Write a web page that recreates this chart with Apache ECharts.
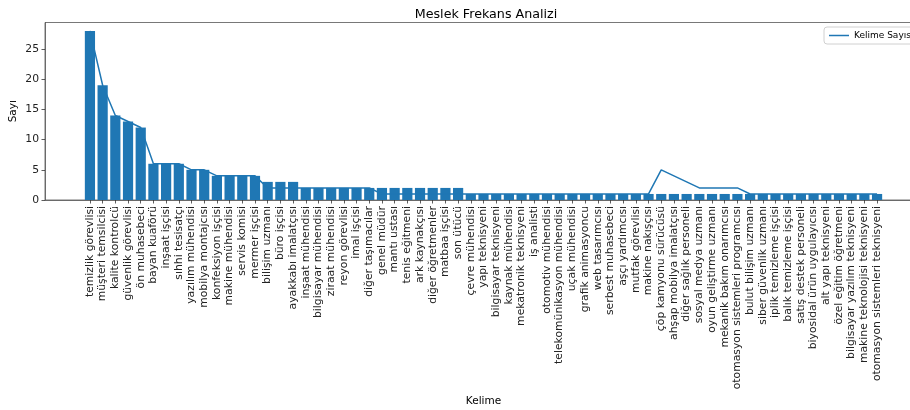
<!DOCTYPE html>
<html>
<head>
<meta charset="utf-8">
<script src="https://cdn.jsdelivr.net/npm/echarts@6/dist/echarts.min.js"></script>
<style>
  html, body { margin: 0; padding: 0; background: #fff; }
  #chart { width: 910px; height: 410px; }
</style>
</head>
<body>
<div id="chart"></div>
<script>
const categories = [
  "temizlik görevlisi", "müşteri temsilcisi", "kalite kontrolcü", "güvenlik görevlisi",
  "ön muhasebeci", "bayan kuaförü", "inşaat işçisi", "sıhhi tesisatçı",
  "yazılım mühendisi", "mobilya montajcısı", "konfeksiyon işçisi", "makine mühendisi",
  "servis komisi", "mermer işçisi", "bilişim uzmanı", "büro işçisi",
  "ayakkabı imalatçısı", "inşaat mühendisi", "bilgisayar mühendisi", "ziraat mühendisi",
  "reyon görevlisi", "imal işçisi", "diğer taşımacılar", "genel müdür",
  "mantı ustası", "tenis eğitmeni", "ark kaynakçısı", "diğer öğretmenler",
  "matbaa işçisi", "son ütücü", "çevre mühendisi", "yapı teknisyeni",
  "bilgisayar teknisyeni", "kaynak mühendisi", "mekatronik teknisyeni", "iş analisti",
  "otomotiv mühendisi", "telekomünikasyon mühendisi", "uçak mühendisi", "grafik animasyoncu",
  "web tasarımcısı", "serbest muhasebeci", "aşçı yardımcısı", "mutfak görevlisi",
  "makine nakışçısı", "çöp kamyonu sürücüsü", "ahşap mobilya imalatçısı", "diğer sağlık personeli",
  "sosyal medya uzmanı", "oyun geliştirme uzmanı", "mekanik bakım onarımcısı", "otomasyon sistemleri programcısı",
  "bulut bilişim uzmanı", "siber güvenlik uzmanı", "iplik temizleme işçisi", "balık temizleme işçisi",
  "satış destek personeli", "biyosidal ürün uygulayıcısı", "alt yapı teknisyeni", "özel eğitim öğretmeni",
  "bilgisayar yazılım teknisyeni", "makine teknolojisi teknisyeni", "otomasyon sistemleri teknisyeni"
];

// bar heights
const barValues = [
  28, 19, 14, 13, 12, 6, 6, 6, 5, 5, 4, 4, 4, 4, 3, 3,
  3, 2, 2, 2, 2, 2, 2, 2, 2, 2, 2, 2, 2, 2, 1, 1,
  1, 1, 1, 1, 1, 1, 1, 1, 1, 1, 1, 1, 1, 1, 1, 1,
  1, 1, 1, 1, 1, 1, 1, 1, 1, 1, 1, 1, 1, 1, 1
];

// line "Kelime Sayısı"
const lineValues = [
  28, 19, 14, 13, 12, 6, 6, 6, 5, 5, 4, 4, 4, 4, 2, 2,
  2, 2, 2, 2, 2, 2, 2, 1, 1, 1, 1, 1, 1, 1, 1, 1,
  1, 1, 1, 1, 1, 1, 1, 1, 1, 1, 1, 1, 1, 5, 4, 3,
  2, 2, 2, 2, 1, 1, 1, 1, 1, 1, 1, 1, 1, 1, 1
];

const yTicks = [0, 5, 10, 15, 20, 25];

const idx = categories.map((_, i) => i);
const font = "DejaVu Sans";
const blue = "#1f77b4";

const chart = echarts.init(document.getElementById("chart"));
chart.setOption({
  animation: false,
  textStyle: { fontFamily: font },
  title: {
    text: "Meslek Frekans Analizi",
    left: 481,
    top: 3,
    textAlign: "center",
    textStyle: { fontFamily: font, fontSize: 12.7, fontWeight: "normal", color: "#000" },
  },
  legend: {
    data: ["Kelime Sayısı"],
    left: 824,
    top: 27,
    orient: "vertical",
    icon: "rect",
    itemWidth: 20,
    itemHeight: 1.5,
    itemGap: 4,
    padding: [4, 5],
    borderColor: "#d0d0d0",
    borderWidth: 1,
    borderRadius: 3,
    backgroundColor: "#fff",
    textStyle: { fontFamily: font, fontSize: 9, color: "#000" },
  },
  grid: {
    left: 45,
    top: 22.5,
    width: 877,
    height: 177.5,
    outerBoundsMode: "none",
    containLabel: false,
    show: true,
    borderColor: "#555",
    borderWidth: 0.8,
    backgroundColor: "transparent",
  },
  xAxis: {
    type: "value",
    min: -3.54,
    max: 65.54,
    name: "Kelime",
    nameLocation: "middle",
    nameGap: 196,
    nameMoveOverlap: false,
    nameTextStyle: { fontFamily: font, fontSize: 10.5, color: "#000" },
    axisLine: { show: true, onZero: false, lineStyle: { color: "#555", width: 0.8 } },
    axisTick: { show: true, length: 3.5, customValues: idx, lineStyle: { color: "#333", width: 0.8 } },
    axisLabel: {
      customValues: idx,
      rotate: 90,
      margin: 6,
      fontFamily: font,
      fontSize: 10.8,
      color: "#222",
      formatter: (v) => categories[Math.round(v)] ?? "",
    },
    splitLine: { show: false },
  },
  yAxis: {
    type: "value",
    min: 0,
    max: 29.4,
    name: "Sayı",
    nameLocation: "middle",
    nameGap: 26,
    nameMoveOverlap: false,
    nameTextStyle: { fontFamily: font, fontSize: 10.5, color: "#000" },
    axisLine: { show: true, onZero: false, lineStyle: { color: "#555", width: 0.8 } },
    axisTick: { show: true, length: 3.5, customValues: yTicks, lineStyle: { color: "#333", width: 0.8 } },
    axisLabel: { customValues: yTicks, margin: 6, fontFamily: font, fontSize: 10.8, color: "#222" },
    splitLine: { show: false },
  },
  series: [
    {
      type: "bar",
      name: "bars",
      data: barValues.map((v, i) => [i, v]),
      barWidth: 10.2,
      itemStyle: { color: blue },
    },
    {
      type: "line",
      name: "Kelime Sayısı",
      data: lineValues.map((v, i) => [i, v]),
      symbol: "none",
      lineStyle: { color: blue, width: 1.5 },
      itemStyle: { color: blue },
      z: 3,
    },
  ],
});
</script>
</body>
</html>
